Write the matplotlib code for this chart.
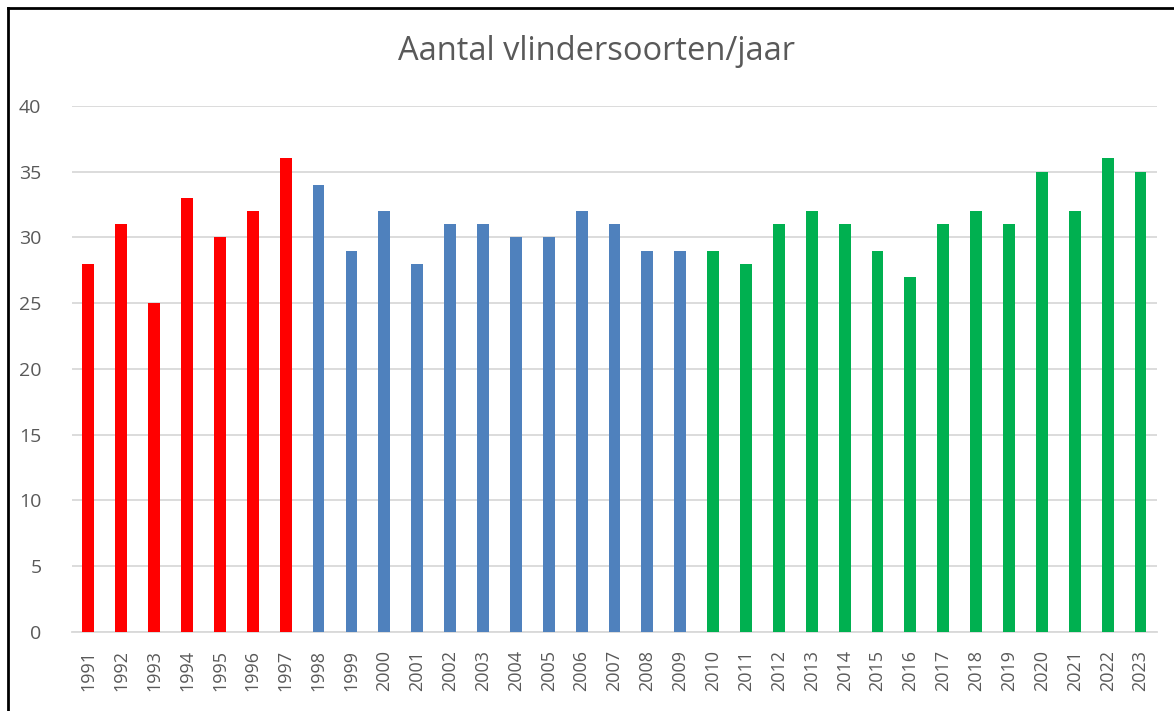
import matplotlib
matplotlib.use('Agg')
import matplotlib.pyplot as plt
from matplotlib.lines import Line2D

years = [str(y) for y in range(1991, 2024)]
counts = [28, 31, 25, 33, 30, 32, 36,
          34, 29, 32, 28, 31, 31, 30, 30, 32, 31, 29, 29,
          29, 28, 31, 32, 31, 29, 27, 31, 32, 31, 35, 32, 36, 35]
# colour groups: red up to 1997, blue 1998-2009, green from 2010
groups = ['red'] * 7 + ['blue'] * 12 + ['green'] * 14
group_colors = {'red': '#FF0000', 'blue': '#4F81BD', 'green': '#00B050'}

plt.rcParams['font.family'] = ['Open Sans', 'DejaVu Sans']
text_color = '#595959'

fig = plt.figure(figsize=(11.74, 7.11), dpi=100)
ax = fig.add_axes([0.0613, 0.1111, 0.9242, 0.740])

x = range(len(years))
ax.bar(x, counts, width=0.36, color=[group_colors[g] for g in groups], zorder=3)

ax.set_xlim(-0.5, len(years) - 0.5)
ax.set_ylim(0, 40)
ax.set_yticks(range(0, 41, 5))
ax.set_xticks(list(x))
ax.set_xticklabels(years, rotation=90)
ax.tick_params(axis='both', length=0, colors=text_color, labelsize=13)
ax.tick_params(axis='y', pad=22, labelsize=14)
ax.tick_params(axis='x', pad=13)
ax.grid(axis='y', color='#D9D9D9', linewidth=1.3, zorder=0)
for side in ['top', 'right', 'left']:
    ax.spines[side].set_visible(False)
ax.spines['bottom'].set_color('#D9D9D9')
ax.spines['bottom'].set_linewidth(1.3)

fig.text(0.5085, 0.928, 'Aantal vlindersoorten/jaar', ha='center', va='center',
         fontsize=23.5, color=text_color)

# black frame on left and top edges
fig.add_artist(Line2D([7.5 / 1174, 7.5 / 1174], [0, 1 - 7.5 / 711],
                      transform=fig.transFigure, color='black', linewidth=2))
fig.add_artist(Line2D([7.5 / 1174, 1], [1 - 7.5 / 711, 1 - 7.5 / 711],
                      transform=fig.transFigure, color='black', linewidth=2))

fig.savefig('out.png', dpi=100)
